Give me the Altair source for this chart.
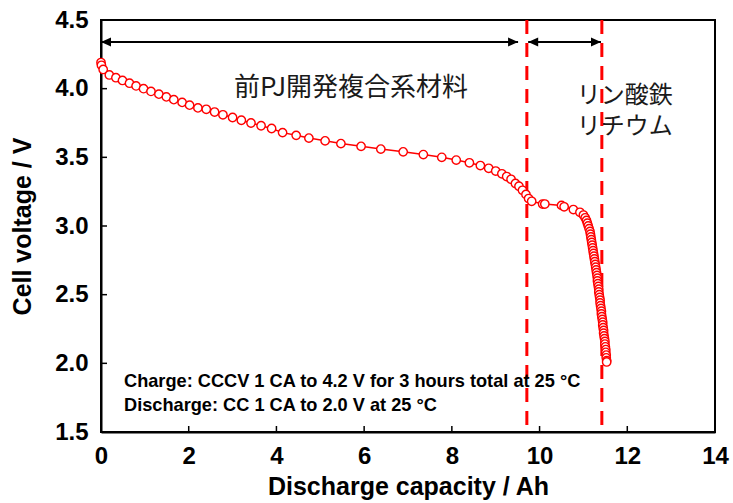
import altair as alt
import pandas as pd

# Discharge curve (capacity in Ah, cell voltage in V)
capacity = [
    0.00, 0.01, 0.05, 0.19, 0.34, 0.49, 0.65, 0.80, 0.97, 1.14,
    1.32, 1.49, 1.66, 1.85, 2.02, 2.21, 2.40, 2.59, 2.78, 3.00,
    3.20, 3.42, 3.65, 3.89, 4.14, 4.45, 4.74, 5.11, 5.47, 5.93,
    6.38, 6.89, 7.35, 7.77, 8.10, 8.40, 8.65, 8.84, 9.00, 9.14,
    9.25, 9.35, 9.45, 9.53, 9.61, 9.69, 9.75, 9.82, 10.07, 10.12,
    10.50, 10.56, 10.77, 10.92, 11.00, 11.04, 11.07, 11.09, 11.11, 11.13,
    11.15, 11.16, 11.17, 11.18, 11.19, 11.20, 11.21, 11.22, 11.23, 11.24,
    11.25, 11.26, 11.27, 11.28, 11.29, 11.30, 11.31, 11.32, 11.32, 11.33,
    11.34, 11.35, 11.35, 11.36, 11.37, 11.38, 11.38, 11.39, 11.40, 11.41,
    11.41, 11.42, 11.43, 11.44, 11.44, 11.45, 11.46, 11.46, 11.47, 11.48,
    11.49, 11.49, 11.50, 11.51, 11.51, 11.52, 11.52, 11.53, 11.53,
]
voltage = [
    4.19, 4.17, 4.14, 4.10, 4.08, 4.06, 4.04, 4.02, 4.00, 3.98,
    3.96, 3.94, 3.92, 3.90, 3.88, 3.86, 3.85, 3.83, 3.81, 3.79,
    3.77, 3.75, 3.73, 3.71, 3.68, 3.66, 3.64, 3.62, 3.60, 3.58,
    3.56, 3.54, 3.52, 3.50, 3.48, 3.46, 3.44, 3.42, 3.40, 3.38,
    3.36, 3.34, 3.31, 3.29, 3.26, 3.23, 3.20, 3.18, 3.16, 3.16,
    3.15, 3.14, 3.12, 3.10, 3.08, 3.06, 3.04, 3.02, 3.00, 2.98,
    2.96, 2.94, 2.92, 2.90, 2.88, 2.86, 2.84, 2.82, 2.80, 2.78,
    2.76, 2.74, 2.72, 2.70, 2.68, 2.66, 2.64, 2.62, 2.60, 2.58,
    2.56, 2.54, 2.52, 2.50, 2.48, 2.46, 2.44, 2.42, 2.40, 2.38,
    2.36, 2.34, 2.32, 2.30, 2.28, 2.26, 2.24, 2.22, 2.20, 2.18,
    2.16, 2.14, 2.12, 2.10, 2.08, 2.06, 2.04, 2.02, 2.01,
]

x_ticks = [0, 2, 4, 6, 8, 10, 12, 14]
y_ticks = [1.5, 2.0, 2.5, 3.0, 3.5, 4.0, 4.5]

# Capacity where the cathode material changes, and where discharge ends
boundary_x = [9.71, 11.42]

# Double-headed span arrows
arrow_y = 4.34
arrow_start = [0.00, 9.74]
arrow_end = [9.51, 11.40]

# Region labels
label_text = ["前PJ開発複合系材料", "リン酸鉄", "リチウム"]
label_x = [5.70, 10.85, 10.85]
label_y = [4.005, 3.95, 3.72]
label_align = ["center", "left", "left"]

# Test conditions
note_lines = [
    "Charge: CCCV 1 CA to 4.2 V for 3 hours total at 25 °C",
    "Discharge: CC 1 CA to 2.0 V at 25 °C",
]

W, H = 614, 412
RED = "#ff0000"
FONT = "Liberation Sans"
CJK = "Noto Sans CJK JP"


def xenc(field):
    return alt.X(
        f"{field}:Q",
        scale=alt.Scale(domain=[0, 14], nice=False, zero=False),
        axis=alt.Axis(
            values=x_ticks, format="d", grid=False, ticks=False,
            title="Discharge capacity / Ah", labelFlush=False,
            labelFont=FONT, labelFontSize=24, labelFontWeight="bold",
            labelColor="black", labelPadding=12,
            titleFont=FONT, titleFontSize=25, titleFontWeight="bold",
            titleColor="black", titleY=54, titleBaseline="middle",
        ),
    )


def yenc(field):
    return alt.Y(
        f"{field}:Q",
        scale=alt.Scale(domain=[1.5, 4.5], nice=False, zero=False),
        axis=alt.Axis(
            values=y_ticks, format=".1f", grid=False, ticks=False,
            title="Cell voltage / V", labelFlush=False,
            labelFont=FONT, labelFontSize=24, labelFontWeight="bold",
            labelColor="black", labelPadding=13,
            titleFont=FONT, titleFontSize=25, titleFontWeight="bold",
            titleColor="black", titleX=-79, titleY=H / 2,
            titleBaseline="middle", titleAlign="center",
        ),
    )


curve = pd.DataFrame({"cap": capacity, "volt": voltage})

line = alt.Chart(curve).mark_line(color=RED, strokeWidth=1.5).encode(
    x=xenc("cap"), y=yenc("volt"), order="cap_idx:Q"
).transform_window(cap_idx="row_number()")

points = alt.Chart(curve).mark_point(
    shape="circle", filled=True, fill="white", stroke=RED,
    strokeWidth=1.4, size=70, opacity=1,
).encode(x=xenc("cap"), y=yenc("volt"))

# Inward-pointing tick marks
xtick_df = pd.DataFrame({"cap": x_ticks})
ytick_df = pd.DataFrame({"volt": y_ticks})
xticks = alt.Chart(xtick_df).mark_rule(color="black", strokeWidth=1.5).encode(
    x=xenc("cap"), y=alt.value(H), y2=alt.value(H - 6)
)
yticks = alt.Chart(ytick_df).mark_rule(color="black", strokeWidth=1.5).encode(
    y=yenc("volt"), x=alt.value(0), x2=alt.value(6)
)

bounds = alt.Chart(pd.DataFrame({"cap": boundary_x})).mark_rule(
    color=RED, strokeWidth=3, strokeDash=[14, 9]
).encode(x=xenc("cap"))

arrow_df = pd.DataFrame({
    "start": arrow_start, "end": arrow_end, "volt": [arrow_y] * len(arrow_start)
})
shafts = alt.Chart(arrow_df).mark_rule(color="black", strokeWidth=2).encode(
    x=xenc("start"), x2="end:Q", y=yenc("volt")
)
heads_left = alt.Chart(arrow_df).mark_point(
    shape="M0,0L2,-0.9L2,0.9Z", filled=True, color="black", size=100, opacity=1
).encode(x=xenc("start"), y=yenc("volt"))
heads_right = alt.Chart(arrow_df).mark_point(
    shape="M0,0L-2,-0.9L-2,0.9Z", filled=True, color="black", size=100, opacity=1
).encode(x=xenc("end"), y=yenc("volt"))

label_df = pd.DataFrame({
    "text": label_text, "cap": label_x, "volt": label_y, "align": label_align
})
labels_center = alt.Chart(label_df[label_df["align"] == "center"]).mark_text(
    font=CJK, fontSize=26, color="#1a1a1a", align="center", baseline="middle"
).encode(x=xenc("cap"), y=yenc("volt"), text="text:N")
labels_left = alt.Chart(label_df[label_df["align"] == "left"]).mark_text(
    font=CJK, fontSize=24, color="#1a1a1a", align="left", baseline="middle"
).encode(x=xenc("cap"), y=yenc("volt"), text="text:N")

notes = alt.layer(*[
    alt.Chart(pd.DataFrame({"t": [txt]})).mark_text(
        font=FONT, fontSize=18.2, fontWeight="bold", color="black",
        align="left", baseline="middle",
    ).encode(x=alt.value(23), y=alt.value(362 + 24 * i), text="t:N")
    for i, txt in enumerate(note_lines)
])

chart = alt.layer(
    bounds, line, points, xticks, yticks, shafts, heads_left, heads_right,
    labels_center, labels_left, notes,
).properties(
    width=W, height=H,
    autosize=alt.AutoSizeParams(type="none"),
    padding={"left": 101, "top": 20, "right": 18, "bottom": 71},
    background="white",
).configure_view(
    stroke="black", strokeWidth=2
).configure_axis(
    domainColor="black", domainWidth=2
)

chart.save("out.html", embed_options={"renderer": "svg", "actions": False})
